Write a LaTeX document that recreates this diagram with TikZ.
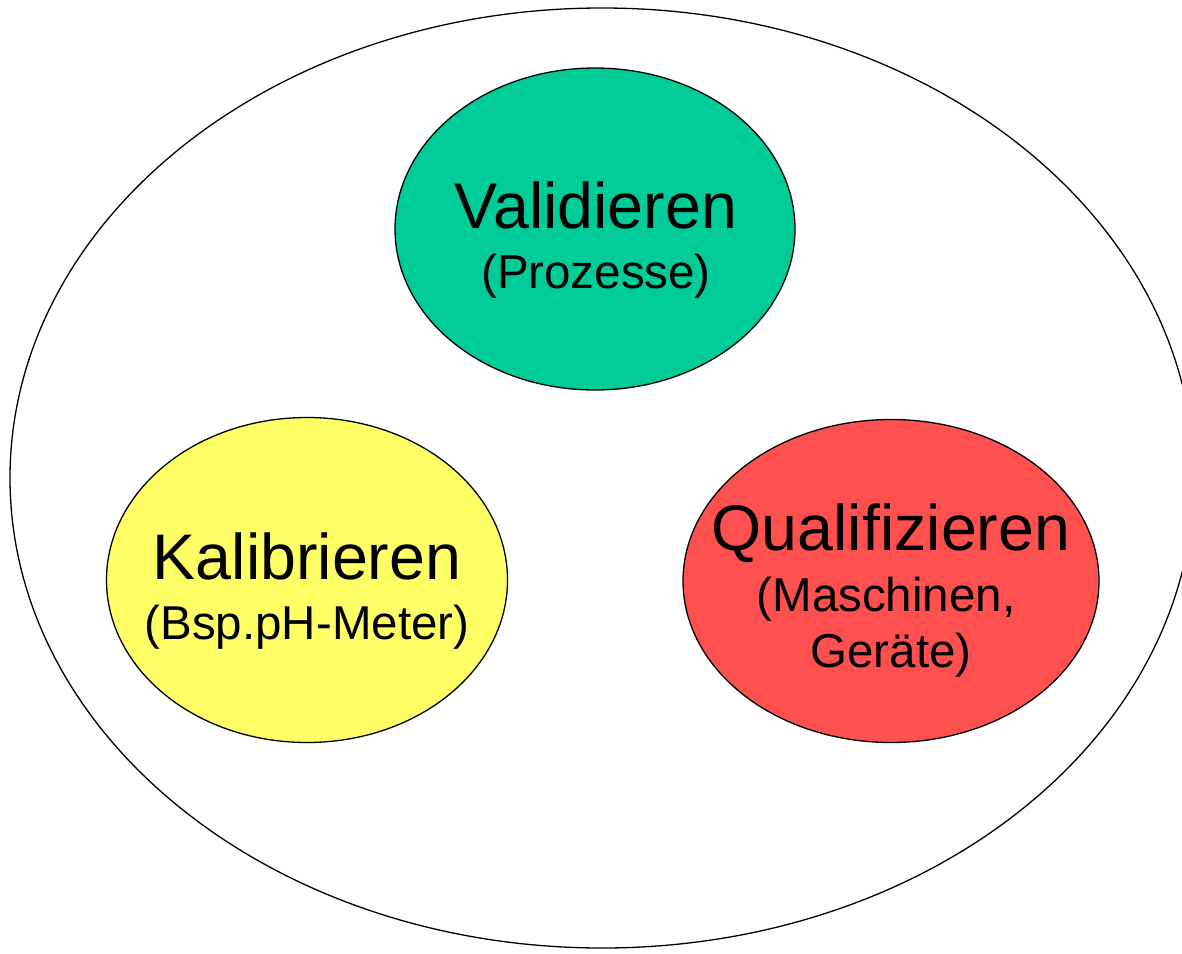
\documentclass[tikz,border=0pt]{standalone}
\usepackage{fontspec}
\setmainfont{Liberation Sans}
\usetikzlibrary{shapes.geometric}
\definecolor{vgreen}{HTML}{00CC99}
\definecolor{kyellow}{HTML}{FFFF66}
\definecolor{qred}{HTML}{FF5050}
\begin{document}
\begin{tikzpicture}[x=1pt,y=-1pt,
  blob/.style={ellipse,draw=black,line width=1.3pt,inner sep=0pt},
  big/.style={anchor=base,font=\fontsize{64.5}{70}\selectfont,inner sep=0pt},
  small/.style={anchor=base,font=\fontsize{47.5}{52}\selectfont,inner sep=0pt}]
\useasboundingbox (0,0) rectangle (1182,953);
\node[blob,minimum width=1184pt,minimum height=940pt] (outer) at (602,478) {};
\node[blob,fill=vgreen,minimum width=400pt,minimum height=322pt] (val) at (595,229) {};
\node[blob,fill=kyellow,minimum width=401pt,minimum height=325pt] (kal) at (307,580) {};
\node[blob,fill=qred,minimum width=416pt,minimum height=323pt] (qua) at (891,581) {};
\node[big] (valt) at (596,228) {Validieren};
\node[small] (vals) at (596,288) {(Prozesse)};
\node[big] (kalt) at (307,579) {Kalibrieren};
\node[small] (kals) at (307,639) {(Bsp.pH-Meter)};
\node[big] (quat) at (891,550) {Qualifizieren};
\node[small] (quas1) at (886,611) {(Maschinen,};
\node[small] (quas2) at (891,667) {Geräte)};
\end{tikzpicture}
\end{document}
